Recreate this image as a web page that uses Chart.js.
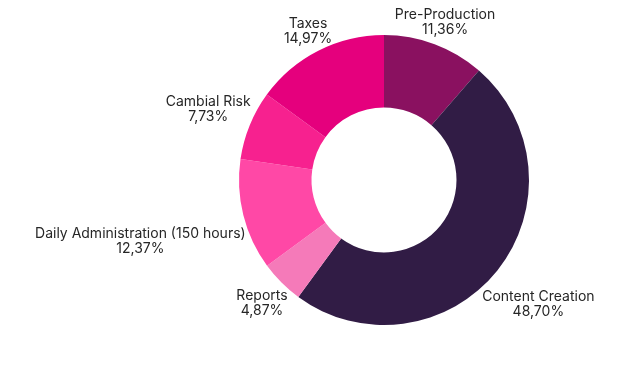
<!DOCTYPE html>
<html>
<head>
<meta charset="utf-8">
<script src="https://cdn.jsdelivr.net/npm/chart.js@4"></script>
<style>
    html, body { margin: 0; padding: 0; background: #ffffff; }
    #wrap { width: 640px; height: 384px; }
</style>
</head>
<body>
<div id="wrap"><canvas id="costChart" width="640" height="384"></canvas></div>
<script>
// chart data
const categories = ['Pre-Production', 'Content Creation', 'Reports', 'Daily Administration (150 hours)', 'Cambial Risk', 'Taxes'];
const shares = [11.36, 48.70, 4.87, 12.37, 7.73, 14.97];
const sliceColors = ['#8a1160', '#311c45', '#f57ab9', '#ff48a6', '#f7218f', '#e5007d'];

const labelFont = '14px Inter';
const lineGap = 15;

function formatShare(v) {
    return v.toFixed(2).replace('.', ',') + '%';
}

// draws the name + percentage outside each slice, pushed out along the mid angle
const outsideLabels = {
    id: 'outsideLabels',
    afterDatasetsDraw(chart) {
        const ctx = chart.ctx;
        const meta = chart.getDatasetMeta(0);
        ctx.save();
        ctx.font = labelFont;
        ctx.fillStyle = '#262626';
        ctx.textAlign = 'center';
        ctx.textBaseline = 'middle';
        meta.data.forEach(function(arc, i) {
            const name = categories[i];
            const pct = formatShare(shares[i]);
            const w = Math.max(ctx.measureText(name).width, ctx.measureText(pct).width);
            const h = 24;
            const mid = (arc.startAngle + arc.endAngle) / 2;
            const ux = Math.cos(mid);
            const uy = Math.sin(mid);
            const r = arc.outerRadius + 1 + Math.abs(ux) * w / 2 + Math.abs(uy) * h / 2;
            const cx = arc.x + ux * r;
            let cy = arc.y + uy * r + 1;
            // keep the top label inside the canvas
            if (cy < 22) cy = 22;
            ctx.fillText(name, cx, cy - lineGap / 2);
            ctx.fillText(pct, cx, cy + lineGap / 2);
        });
        ctx.restore();
    }
};

new Chart(document.getElementById('costChart'), {
    type: 'doughnut',
    data: {
        labels: categories,
        datasets: [{
            data: shares,
            backgroundColor: sliceColors,
            borderWidth: 0
        }]
    },
    options: {
        responsive: false,
        animation: false,
        cutout: '50%',
        layout: {
            padding: { left: 239, right: 111, top: 35, bottom: 59 }
        },
        plugins: {
            legend: { display: false },
            tooltip: { enabled: false }
        }
    },
    plugins: [outsideLabels]
});
</script>
</body>
</html>
